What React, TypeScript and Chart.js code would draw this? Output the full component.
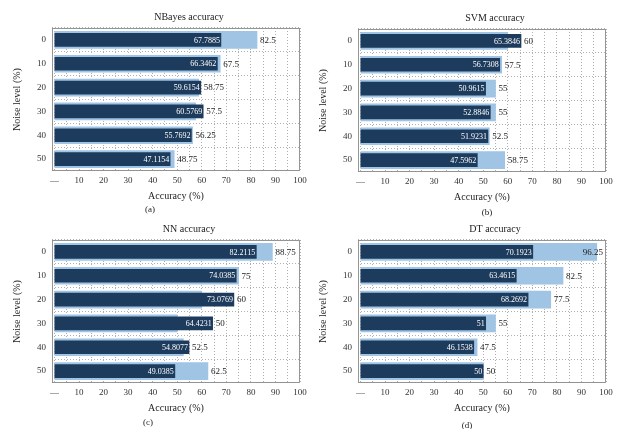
import React, { useEffect, useRef } from "react";
import { Chart, registerables } from "chart.js";

Chart.register(...registerables);

// ---------- data ----------
const categories = ["0", "10", "20", "30", "40", "50"];

const nbayesLight = [82.5, 67.5, 58.75, 57.5, 56.25, 48.75];
const nbayesDark = [67.7885, 66.3462, 59.6154, 60.5769, 55.7692, 47.1154];

const svmLight = [60, 57.5, 55, 55, 52.5, 58.75];
const svmDark = [65.3846, 56.7308, 50.9615, 52.8846, 51.9231, 47.5962];

const nnLight = [88.75, 75, 60, 50, 52.5, 62.5];
const nnDark = [82.2115, 74.0385, 73.0769, 64.4231, 54.8077, 49.0385];

const dtLight = [96.25, 82.5, 77.5, 55, 47.5, 50];
const dtDark = [70.1923, 63.4615, 68.2692, 51, 46.1538, 50];

const xTickValues = [0, 10, 20, 30, 40, 50, 60, 70, 80, 90, 100];
const xTickLabels = ["—", "10", "20", "30", "40", "50", "60", "70", "80", "90", "100"];
const xGridValues = [0, 5, 10, 15, 20, 25, 30, 35, 40, 45, 50, 55, 60, 65, 70, 75, 80, 85, 90, 95, 100];

const titles = ["NBayes accuracy", "SVM accuracy", "NN accuracy", "DT accuracy"];
const captions = ["(a)", "(b)", "(c)", "(d)"];

// ---------- style ----------
const DARK = "#1d3b5c";
const LIGHT = "#9fc4e4";
const FONT = "'Liberation Serif', 'DejaVu Serif', serif";
const W = 313;
const H = 217;

type Panel = {
  title: string;
  caption: string;
  light: number[];
  dark: number[];
  left: number;
  top: number;
  capX: number;
  capY: number;
};

const panels: Panel[] = [
  { title: titles[0], caption: captions[0], light: nbayesLight, dark: nbayesDark, left: 0, top: 0, capX: 150, capY: 210 },
  { title: titles[1], caption: captions[1], light: svmLight, dark: svmDark, left: 306, top: 1, capX: 181, capY: 212 },
  { title: titles[2], caption: captions[2], light: nnLight, dark: nnDark, left: 0, top: 212, capX: 148, capY: 211 },
  { title: titles[3], caption: captions[3], light: dtLight, dark: dtDark, left: 306, top: 212, capX: 161, capY: 214 },
];

function fmt(v: number): string {
  return String(v);
}

function makeDecor(p: Panel) {
  return {
    id: "decor",
    afterDatasetsDraw(chart: any) {
      const ctx = chart.ctx;
      const a = chart.chartArea;
      ctx.save();
      // plot frame
      ctx.strokeStyle = "#8a8a8a";
      ctx.lineWidth = 0.9;
      ctx.strokeRect(a.left + 0.5, a.top + 0.5, a.right - a.left - 1, a.bottom - a.top - 1);

      const darkMeta = chart.getDatasetMeta(0);
      const lightMeta = chart.getDatasetMeta(1);
      ctx.textBaseline = "middle";
      for (let i = 0; i < categories.length; i++) {
        const db = darkMeta.data[i];
        const lb = lightMeta.data[i];
        // dark label inside bar end
        ctx.font = `8px ${FONT}`;
        ctx.fillStyle = "#ffffff";
        ctx.textAlign = "right";
        ctx.fillText(fmt(p.dark[i]), db.x - 1, db.y + 0.5);
        // light label to the right (kept inside the frame)
        ctx.font = `9px ${FONT}`;
        ctx.fillStyle = "#222";
        const txt = fmt(p.light[i]);
        const tw = ctx.measureText(txt).width;
        let lx = Math.max(db.x, lb.x) + 3;
        if (lx + tw > a.right - 2) lx = a.right - 3 - tw;
        ctx.textAlign = "left";
        ctx.fillText(txt, lx, lb.y + 0.5);
      }
      // title
      ctx.font = `10px ${FONT}`;
      ctx.fillStyle = "#222";
      ctx.textAlign = "center";
      ctx.fillText(p.title, (a.left + a.right) / 2 + 13, 17);
      // caption
      ctx.font = `9px ${FONT}`;
      ctx.fillText(p.caption, p.capX, p.capY);
      ctx.restore();
    },
  };
}

function PanelChart({ p }: { p: Panel }) {
  const ref = useRef<HTMLCanvasElement | null>(null);
  useEffect(() => {
    if (!ref.current) return;
    const chart = new Chart(ref.current, {
      type: "bar",
      data: {
        labels: categories,
        datasets: [
          { data: p.dark, backgroundColor: DARK, barThickness: 13, grouped: false, order: 0 } as any,
          { data: p.light, backgroundColor: LIGHT, barThickness: 17, grouped: false, order: 1 } as any,
        ],
      },
      options: {
        indexAxis: "y",
        responsive: false,
        animation: false,
        layout: { padding: { top: 28, right: 13, left: 0, bottom: 0 } },
        plugins: { legend: { display: false }, tooltip: { enabled: false }, title: { display: false } },
        scales: {
          x: {
            type: "linear",
            min: -1,
            max: 100,
            afterBuildTicks: (s: any) => {
              s.ticks = xGridValues.map((v) => ({ value: v }));
            },
            afterFit: (s: any) => {
              s.height = 46;
            },
            ticks: {
              autoSkip: false,
              maxRotation: 0,
              padding: 4,
              color: "#333",
              font: { family: FONT, size: 9 },
              callback: (v: any) => {
                const i = xTickValues.indexOf(Number(v));
                return i >= 0 ? xTickLabels[i] : "";
              },
            },
            grid: { color: "#9a9a9a", lineWidth: 0.8, drawTicks: false },
            border: { display: false, dash: [1, 2] },
            title: {
              display: true,
              text: "Accuracy (%)",
              color: "#222",
              font: { family: FONT, size: 10 },
              padding: { top: 0, bottom: 15 },
            },
          },
          y: {
            type: "category",
            offset: true,
            afterFit: (s: any) => {
              s.width = 52;
            },
            ticks: { padding: 6, color: "#333", font: { family: FONT, size: 9 } },
            grid: { offset: true, color: "#9a9a9a", lineWidth: 0.8, drawTicks: false },
            border: { display: false, dash: [1, 2] },
            title: {
              display: true,
              text: "Noise level (%)",
              color: "#222",
              font: { family: FONT, size: 10 },
              padding: { top: 11, bottom: 0 },
            },
          },
        },
      } as any,
      plugins: [makeDecor(p)],
    });
    return () => chart.destroy();
  }, [p]);
  return (
    <canvas
      ref={ref}
      width={W}
      height={H}
      style={{ position: "absolute", left: p.left, top: p.top, width: W, height: H }}
    />
  );
}

export default function App() {
  return (
    <div style={{ position: "absolute", left: 0, top: 0, width: 627, height: 434, background: "#fff", overflow: "hidden" }}>
      {panels.map((p, i) => (
        <PanelChart key={i} p={p} />
      ))}
    </div>
  );
}
